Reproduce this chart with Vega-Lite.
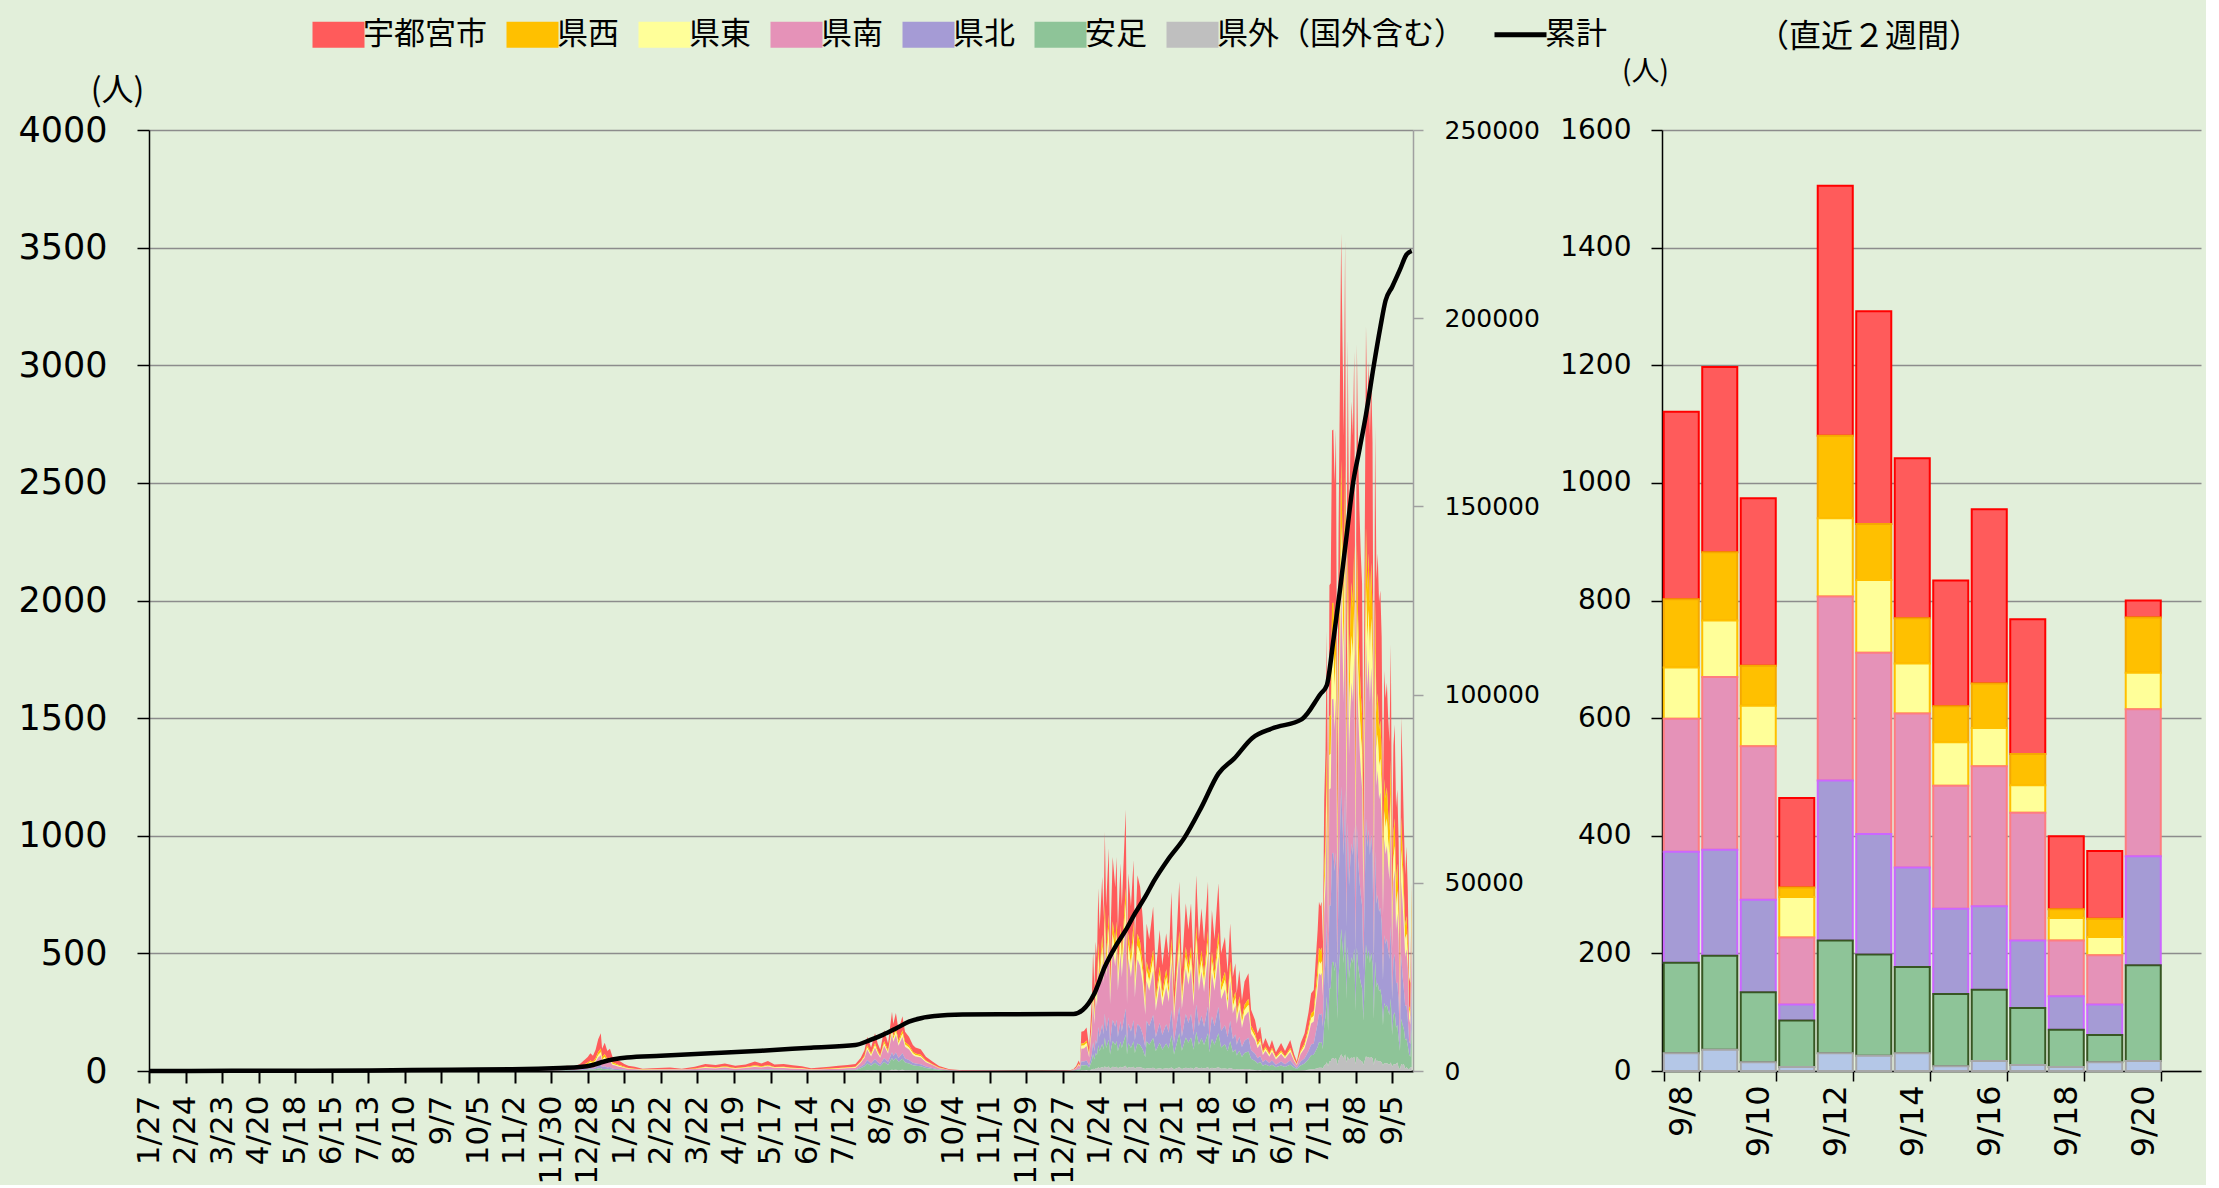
{
"$schema": "https://vega.github.io/schema/vega-lite/v6.json",
"background": "#e2efda",
"padding": {"left": 17, "top": 19, "right": 5, "bottom": 0},
"config": {
  "view": {"stroke": null},
  "font": "DejaVu Sans",
  "axis": {"labelFont": "DejaVu Sans", "labelColor": "#000000", "titleFont": "Noto Sans CJK JP", "titleColor": "#000000", "titleFontWeight": "normal"}
},
"datasets": {
  "cats": [
    {"k": "u", "name": "宇都宮市", "ord": 7},
    {"k": "w", "name": "県西", "ord": 6},
    {"k": "e", "name": "県東", "ord": 5},
    {"k": "s", "name": "県南", "ord": 4},
    {"k": "n", "name": "県北", "ord": 3},
    {"k": "a", "name": "安足", "ord": 2},
    {"k": "o", "name": "県外（国外含む）", "ord": 1}
  ],
  "recent": [
    {"day": "9/8", "u": 319, "w": 116, "e": 87, "s": 226, "n": 189, "a": 154, "o": 30},
    {"day": "9/9", "u": 315, "w": 116, "e": 96, "s": 294, "n": 180, "a": 160, "o": 36},
    {"day": "9/10", "u": 285, "w": 68, "e": 69, "s": 261, "n": 157, "a": 119, "o": 15},
    {"day": "9/11", "u": 152, "w": 16, "e": 69, "s": 114, "n": 27, "a": 79, "o": 7},
    {"day": "9/12", "u": 425, "w": 140, "e": 133, "s": 313, "n": 272, "a": 192, "o": 30},
    {"day": "9/13", "u": 362, "w": 95, "e": 124, "s": 308, "n": 205, "a": 172, "o": 26},
    {"day": "9/14", "u": 272, "w": 77, "e": 85, "s": 262, "n": 169, "a": 147, "o": 30},
    {"day": "9/15", "u": 214, "w": 61, "e": 74, "s": 209, "n": 145, "a": 123, "o": 8},
    {"day": "9/16", "u": 296, "w": 76, "e": 65, "s": 238, "n": 142, "a": 121, "o": 17},
    {"day": "9/17", "u": 229, "w": 53, "e": 47, "s": 217, "n": 115, "a": 97, "o": 10},
    {"day": "9/18", "u": 124, "w": 15, "e": 38, "s": 95, "n": 57, "a": 63, "o": 7},
    {"day": "9/19", "u": 115, "w": 31, "e": 31, "s": 84, "n": 52, "a": 46, "o": 15},
    {"day": "9/20", "u": 29, "w": 94, "e": 62, "s": 250, "n": 185, "a": 163, "o": 17}
  ],
  "cum": [
    {"d": "2020-01-27", "c": 0}, {"d": "2020-03-31", "c": 40}, {"d": "2020-05-31", "c": 70},
    {"d": "2020-07-15", "c": 110}, {"d": "2020-08-15", "c": 250}, {"d": "2020-09-15", "c": 350},
    {"d": "2020-10-31", "c": 450}, {"d": "2020-11-20", "c": 600}, {"d": "2020-12-07", "c": 800},
    {"d": "2020-12-22", "c": 1050}, {"d": "2021-01-01", "c": 1600}, {"d": "2021-01-09", "c": 2450},
    {"d": "2021-01-17", "c": 3100}, {"d": "2021-01-27", "c": 3600}, {"d": "2021-02-22", "c": 4050},
    {"d": "2021-04-01", "c": 4700}, {"d": "2021-05-10", "c": 5400}, {"d": "2021-06-17", "c": 6200},
    {"d": "2021-07-21", "c": 6900}, {"d": "2021-08-01", "c": 8200}, {"d": "2021-08-11", "c": 9600},
    {"d": "2021-08-21", "c": 11300}, {"d": "2021-08-31", "c": 13100}, {"d": "2021-09-10", "c": 14100},
    {"d": "2021-09-20", "c": 14600}, {"d": "2021-10-11", "c": 15000}, {"d": "2021-11-11", "c": 15100},
    {"d": "2022-01-04", "c": 15150}, {"d": "2022-01-11", "c": 16200}, {"d": "2022-01-20", "c": 20600},
    {"d": "2022-01-28", "c": 27700}, {"d": "2022-02-05", "c": 33000}, {"d": "2022-02-13", "c": 37400},
    {"d": "2022-02-20", "c": 41800}, {"d": "2022-02-28", "c": 46300}, {"d": "2022-03-07", "c": 50700},
    {"d": "2022-03-17", "c": 56000}, {"d": "2022-03-30", "c": 62000}, {"d": "2022-04-12", "c": 70100},
    {"d": "2022-04-25", "c": 79000}, {"d": "2022-05-07", "c": 83000}, {"d": "2022-05-21", "c": 88500},
    {"d": "2022-06-05", "c": 91000}, {"d": "2022-06-28", "c": 93500}, {"d": "2022-07-12", "c": 100100},
    {"d": "2022-07-17", "c": 102500}, {"d": "2022-07-22", "c": 114400}, {"d": "2022-07-27", "c": 127600},
    {"d": "2022-08-01", "c": 141800}, {"d": "2022-08-06", "c": 156000}, {"d": "2022-08-11", "c": 165100},
    {"d": "2022-08-16", "c": 174400}, {"d": "2022-08-22", "c": 187500}, {"d": "2022-08-27", "c": 197600},
    {"d": "2022-08-31", "c": 204700}, {"d": "2022-09-05", "c": 208300}, {"d": "2022-09-11", "c": 212900},
    {"d": "2022-09-16", "c": 216900}, {"d": "2022-09-20", "c": 217900}
  ],
  "daily": [
    {"d":"2020-01-27","u":0,"w":0,"e":0,"s":0,"n":0,"a":0,"o":0},
    {"d":"2020-03-25","u":1,"w":0,"e":0,"s":1,"n":0,"a":0,"o":0},
    {"d":"2020-04-15","u":1,"w":0,"e":0,"s":1,"n":0,"a":1,"o":0},
    {"d":"2020-05-10","u":0,"w":0,"e":0,"s":0,"n":0,"a":0,"o":0},
    {"d":"2020-07-01","u":1,"w":0,"e":0,"s":0,"n":0,"a":0,"o":0},
    {"d":"2020-07-20","u":4,"w":0,"e":0,"s":2,"n":1,"a":1,"o":0},
    {"d":"2020-08-05","u":4,"w":0,"e":1,"s":3,"n":1,"a":1,"o":0},
    {"d":"2020-08-20","u":2,"w":0,"e":0,"s":2,"n":0,"a":1,"o":0},
    {"d":"2020-09-20","u":2,"w":0,"e":0,"s":1,"n":0,"a":0,"o":0},
    {"d":"2020-10-20","u":2,"w":0,"e":0,"s":1,"n":1,"a":0,"o":0},
    {"d":"2020-11-10","u":4,"w":0,"e":0,"s":2,"n":1,"a":1,"o":0},
    {"d":"2020-11-25","u":7,"w":1,"e":1,"s":4,"n":1,"a":1,"o":0},
    {"d":"2020-12-05","u":5,"w":0,"e":1,"s":4,"n":1,"a":1,"o":0},
    {"d":"2020-12-12","u":10,"w":1,"e":1,"s":6,"n":2,"a":2,"o":0},
    {"d":"2020-12-18","u":9,"w":1,"e":1,"s":6,"n":2,"a":1,"o":0},
    {"d":"2020-12-22","u":13,"w":1,"e":2,"s":8,"n":3,"a":2,"o":1},
    {"d":"2020-12-25","u":18,"w":4,"e":4,"s":11,"n":4,"a":3,"o":1},
    {"d":"2020-12-28","u":24,"w":6,"e":5,"s":15,"n":5,"a":4,"o":1},
    {"d":"2020-12-30","u":30,"w":7,"e":6,"s":19,"n":7,"a":4,"o":2},
    {"d":"2021-01-01","u":26,"w":7,"e":5,"s":16,"n":6,"a":4,"o":1},
    {"d":"2021-01-03","u":36,"w":9,"e":7,"s":23,"n":8,"a":5,"o":2},
    {"d":"2021-01-05","u":54,"w":13,"e":11,"s":34,"n":12,"a":8,"o":3},
    {"d":"2021-01-07","u":65,"w":16,"e":13,"s":40,"n":14,"a":10,"o":3},
    {"d":"2021-01-08","u":37,"w":9,"e":8,"s":24,"n":9,"a":6,"o":2},
    {"d":"2021-01-10","u":48,"w":12,"e":10,"s":30,"n":11,"a":7,"o":2},
    {"d":"2021-01-12","u":34,"w":8,"e":7,"s":21,"n":8,"a":5,"o":2},
    {"d":"2021-01-14","u":37,"w":9,"e":8,"s":24,"n":9,"a":6,"o":2},
    {"d":"2021-01-16","u":24,"w":6,"e":5,"s":15,"n":5,"a":4,"o":1},
    {"d":"2021-01-18","u":22,"w":6,"e":4,"s":14,"n":5,"a":3,"o":1},
    {"d":"2021-01-20","u":18,"w":4,"e":4,"s":11,"n":4,"a":3,"o":1},
    {"d":"2021-01-22","u":16,"w":4,"e":3,"s":10,"n":4,"a":2,"o":1},
    {"d":"2021-01-25","u":12,"w":3,"e":2,"s":7,"n":3,"a":2,"o":1},
    {"d":"2021-01-28","u":9,"w":2,"e":2,"s":6,"n":2,"a":1,"o":0},
    {"d":"2021-02-02","u":8,"w":2,"e":1,"s":4,"n":2,"a":1,"o":0},
    {"d":"2021-02-08","u":4,"w":1,"e":1,"s":2,"n":1,"a":1,"o":0},
    {"d":"2021-02-15","u":5,"w":1,"e":1,"s":3,"n":1,"a":1,"o":0},
    {"d":"2021-03-01","u":6,"w":2,"e":1,"s":4,"n":1,"a":1,"o":0},
    {"d":"2021-03-10","u":4,"w":0,"e":1,"s":3,"n":1,"a":1,"o":0},
    {"d":"2021-03-20","u":7,"w":2,"e":1,"s":5,"n":2,"a":1,"o":0},
    {"d":"2021-03-28","u":12,"w":2,"e":3,"s":8,"n":2,"a":2,"o":1},
    {"d":"2021-04-05","u":10,"w":2,"e":2,"s":7,"n":2,"a":1,"o":1},
    {"d":"2021-04-12","u":12,"w":3,"e":2,"s":9,"n":3,"a":2,"o":1},
    {"d":"2021-04-20","u":9,"w":2,"e":2,"s":6,"n":2,"a":1,"o":0},
    {"d":"2021-04-28","u":11,"w":2,"e":2,"s":8,"n":2,"a":2,"o":1},
    {"d":"2021-05-05","u":16,"w":4,"e":3,"s":11,"n":3,"a":2,"o":1},
    {"d":"2021-05-10","u":12,"w":3,"e":2,"s":9,"n":3,"a":2,"o":1},
    {"d":"2021-05-15","u":16,"w":4,"e":3,"s":12,"n":3,"a":3,"o":1},
    {"d":"2021-05-20","u":11,"w":2,"e":2,"s":8,"n":2,"a":2,"o":1},
    {"d":"2021-05-27","u":12,"w":2,"e":3,"s":8,"n":2,"a":2,"o":1},
    {"d":"2021-06-03","u":10,"w":2,"e":2,"s":7,"n":2,"a":1,"o":0},
    {"d":"2021-06-10","u":8,"w":1,"e":2,"s":6,"n":2,"a":1,"o":0},
    {"d":"2021-06-17","u":5,"w":1,"e":1,"s":3,"n":1,"a":1,"o":0},
    {"d":"2021-06-24","u":6,"w":2,"e":1,"s":4,"n":1,"a":1,"o":0},
    {"d":"2021-07-01","u":7,"w":2,"e":1,"s":5,"n":2,"a":1,"o":0},
    {"d":"2021-07-08","u":9,"w":2,"e":2,"s":6,"n":2,"a":1,"o":0},
    {"d":"2021-07-15","u":9,"w":2,"e":2,"s":7,"n":2,"a":2,"o":1},
    {"d":"2021-07-21","u":12,"w":2,"e":3,"s":8,"n":2,"a":2,"o":1},
    {"d":"2021-07-25","u":15,"w":3,"e":3,"s":16,"n":6,"a":11,"o":1},
    {"d":"2021-07-28","u":23,"w":5,"e":5,"s":27,"n":9,"a":18,"o":2},
    {"d":"2021-07-30","u":37,"w":9,"e":9,"s":44,"n":15,"a":29,"o":3},
    {"d":"2021-08-02","u":26,"w":6,"e":6,"s":30,"n":10,"a":20,"o":2},
    {"d":"2021-08-05","u":42,"w":10,"e":10,"s":48,"n":16,"a":32,"o":3},
    {"d":"2021-08-07","u":31,"w":7,"e":7,"s":35,"n":12,"a":24,"o":2},
    {"d":"2021-08-09","u":24,"w":5,"e":5,"s":27,"n":9,"a":18,"o":2},
    {"d":"2021-08-12","u":47,"w":10,"e":10,"s":52,"n":17,"a":35,"o":3},
    {"d":"2021-08-15","u":31,"w":7,"e":7,"s":35,"n":12,"a":24,"o":2},
    {"d":"2021-08-18","u":66,"w":15,"e":15,"s":76,"n":25,"a":50,"o":5},
    {"d":"2021-08-19","u":52,"w":12,"e":12,"s":60,"n":20,"a":40,"o":4},
    {"d":"2021-08-21","u":64,"w":15,"e":15,"s":74,"n":25,"a":49,"o":5},
    {"d":"2021-08-23","u":47,"w":10,"e":10,"s":52,"n":17,"a":35,"o":3},
    {"d":"2021-08-26","u":60,"w":14,"e":14,"s":70,"n":23,"a":47,"o":5},
    {"d":"2021-08-28","u":44,"w":10,"e":10,"s":50,"n":17,"a":33,"o":3},
    {"d":"2021-08-31","u":37,"w":9,"e":9,"s":44,"n":15,"a":29,"o":3},
    {"d":"2021-09-03","u":28,"w":7,"e":7,"s":33,"n":11,"a":22,"o":2},
    {"d":"2021-09-05","u":26,"w":6,"e":6,"s":30,"n":10,"a":20,"o":2},
    {"d":"2021-09-09","u":23,"w":6,"e":6,"s":28,"n":9,"a":18,"o":2},
    {"d":"2021-09-13","u":16,"w":4,"e":4,"s":18,"n":6,"a":12,"o":1},
    {"d":"2021-09-18","u":11,"w":2,"e":2,"s":12,"n":4,"a":8,"o":1},
    {"d":"2021-09-23","u":6,"w":2,"e":1,"s":6,"n":2,"a":4,"o":0},
    {"d":"2021-10-01","u":3,"w":0,"e":0,"s":2,"n":1,"a":1,"o":0},
    {"d":"2021-10-11","u":2,"w":0,"e":0,"s":1,"n":0,"a":0,"o":0},
    {"d":"2021-11-01","u":1,"w":0,"e":0,"s":1,"n":0,"a":0,"o":0},
    {"d":"2021-11-20","u":1,"w":0,"e":0,"s":0,"n":0,"a":0,"o":0},
    {"d":"2021-12-10","u":1,"w":0,"e":0,"s":0,"n":0,"a":0,"o":0},
    {"d":"2021-12-28","u":1,"w":0,"e":0,"s":1,"n":0,"a":0,"o":0},
    {"d":"2022-01-02","u":2,"w":0,"e":0,"s":1,"n":0,"a":1,"o":0},
    {"d":"2022-01-04","u":2,"w":0,"e":1,"s":3,"n":1,"a":1,"o":0},
    {"d":"2022-01-06","u":7,"w":1,"e":1,"s":7,"n":2,"a":2,"o":0},
    {"d":"2022-01-08","u":13,"w":3,"e":3,"s":15,"n":5,"a":5,"o":1},
    {"d":"2022-01-09","u":8,"w":2,"e":2,"s":10,"n":3,"a":4,"o":1},
    {"d":"2022-01-10","u":50,"w":10,"e":12,"s":55,"n":17,"a":20,"o":3},
    {"d":"2022-01-12","u":52,"w":10,"e":12,"s":56,"n":17,"a":20,"o":3},
    {"d":"2022-01-14","u":55,"w":11,"e":13,"s":61,"n":19,"a":22,"o":4},
    {"d":"2022-01-16","u":30,"w":6,"e":7,"s":33,"n":10,"a":12,"o":2},
    {"d":"2022-01-18","u":90,"w":18,"e":21,"s":99,"n":30,"a":36,"o":6},
    {"d":"2022-01-19","u":153,"w":30,"e":35,"s":167,"n":51,"a":61,"o":10},
    {"d":"2022-01-20","u":104,"w":21,"e":25,"s":116,"n":35,"a":42,"o":7},
    {"d":"2022-01-21","u":165,"w":33,"e":38,"s":181,"n":55,"a":66,"o":11},
    {"d":"2022-01-22","u":143,"w":29,"e":34,"s":158,"n":48,"a":58,"o":10},
    {"d":"2022-01-23","u":233,"w":47,"e":54,"s":256,"n":78,"a":93,"o":16},
    {"d":"2022-01-24","u":180,"w":36,"e":42,"s":198,"n":60,"a":72,"o":12},
    {"d":"2022-01-26","u":246,"w":50,"e":58,"s":272,"n":83,"a":99,"o":17},
    {"d":"2022-01-27","u":194,"w":39,"e":46,"s":215,"n":65,"a":78,"o":13},
    {"d":"2022-01-28","u":305,"w":61,"e":71,"s":335,"n":102,"a":122,"o":20},
    {"d":"2022-01-29","u":210,"w":42,"e":49,"s":231,"n":70,"a":84,"o":14},
    {"d":"2022-01-31","u":283,"w":57,"e":66,"s":313,"n":95,"a":114,"o":19},
    {"d":"2022-02-01","u":150,"w":30,"e":35,"s":165,"n":50,"a":60,"o":10},
    {"d":"2022-02-03","u":273,"w":55,"e":64,"s":300,"n":91,"a":109,"o":18},
    {"d":"2022-02-05","u":233,"w":47,"e":55,"s":257,"n":78,"a":94,"o":16},
    {"d":"2022-02-06","u":273,"w":55,"e":64,"s":300,"n":91,"a":109,"o":18},
    {"d":"2022-02-07","u":180,"w":36,"e":42,"s":198,"n":60,"a":72,"o":12},
    {"d":"2022-02-09","u":265,"w":53,"e":62,"s":291,"n":88,"a":106,"o":18},
    {"d":"2022-02-10","u":210,"w":42,"e":49,"s":231,"n":70,"a":84,"o":14},
    {"d":"2022-02-13","u":333,"w":67,"e":78,"s":367,"n":111,"a":133,"o":22},
    {"d":"2022-02-14","u":150,"w":30,"e":35,"s":165,"n":50,"a":60,"o":10},
    {"d":"2022-02-15","u":252,"w":50,"e":59,"s":277,"n":84,"a":101,"o":17},
    {"d":"2022-02-17","u":210,"w":42,"e":49,"s":231,"n":70,"a":84,"o":14},
    {"d":"2022-02-19","u":267,"w":54,"e":63,"s":296,"n":90,"a":108,"o":18},
    {"d":"2022-02-20","u":164,"w":33,"e":39,"s":182,"n":55,"a":66,"o":11},
    {"d":"2022-02-22","u":249,"w":50,"e":58,"s":275,"n":83,"a":100,"o":17},
    {"d":"2022-02-24","u":235,"w":47,"e":55,"s":258,"n":78,"a":94,"o":16},
    {"d":"2022-02-26","u":194,"w":39,"e":46,"s":215,"n":65,"a":78,"o":13},
    {"d":"2022-02-28","u":127,"w":25,"e":29,"s":139,"n":42,"a":50,"o":8},
    {"d":"2022-03-01","u":162,"w":38,"e":44,"s":169,"n":88,"a":113,"o":13},
    {"d":"2022-03-03","u":146,"w":34,"e":39,"s":151,"n":78,"a":101,"o":11},
    {"d":"2022-03-06","u":181,"w":42,"e":49,"s":188,"n":98,"a":126,"o":14},
    {"d":"2022-03-08","u":110,"w":25,"e":29,"s":113,"n":59,"a":76,"o":8},
    {"d":"2022-03-11","u":155,"w":36,"e":42,"s":162,"n":84,"a":108,"o":12},
    {"d":"2022-03-13","u":116,"w":27,"e":32,"s":122,"n":63,"a":81,"o":9},
    {"d":"2022-03-16","u":153,"w":35,"e":41,"s":158,"n":82,"a":105,"o":12},
    {"d":"2022-03-18","u":124,"w":29,"e":34,"s":130,"n":67,"a":86,"o":10},
    {"d":"2022-03-20","u":198,"w":46,"e":53,"s":205,"n":107,"a":137,"o":15},
    {"d":"2022-03-22","u":90,"w":21,"e":25,"s":95,"n":49,"a":63,"o":7},
    {"d":"2022-03-26","u":209,"w":48,"e":56,"s":217,"n":113,"a":145,"o":16},
    {"d":"2022-03-28","u":112,"w":26,"e":30,"s":116,"n":60,"a":77,"o":9},
    {"d":"2022-03-31","u":185,"w":43,"e":50,"s":193,"n":100,"a":128,"o":14},
    {"d":"2022-04-02","u":156,"w":36,"e":42,"s":162,"n":84,"a":108,"o":12},
    {"d":"2022-04-04","u":185,"w":43,"e":50,"s":193,"n":100,"a":128,"o":14},
    {"d":"2022-04-06","u":116,"w":27,"e":32,"s":122,"n":63,"a":81,"o":9},
    {"d":"2022-04-08","u":216,"w":50,"e":58,"s":225,"n":116,"a":150,"o":17},
    {"d":"2022-04-10","u":146,"w":34,"e":39,"s":151,"n":78,"a":101,"o":11},
    {"d":"2022-04-12","u":179,"w":42,"e":48,"s":187,"n":97,"a":125,"o":14},
    {"d":"2022-04-14","u":142,"w":33,"e":39,"s":149,"n":77,"a":99,"o":11},
    {"d":"2022-04-17","u":209,"w":48,"e":56,"s":217,"n":113,"a":145,"o":16},
    {"d":"2022-04-18","u":104,"w":24,"e":28,"s":108,"n":56,"a":72,"o":8},
    {"d":"2022-04-20","u":177,"w":41,"e":48,"s":185,"n":96,"a":123,"o":14},
    {"d":"2022-04-22","u":146,"w":34,"e":39,"s":151,"n":78,"a":101,"o":11},
    {"d":"2022-04-25","u":207,"w":48,"e":56,"s":215,"n":112,"a":144,"o":16},
    {"d":"2022-04-27","u":130,"w":30,"e":35,"s":135,"n":70,"a":90,"o":10},
    {"d":"2022-04-30","u":148,"w":34,"e":40,"s":154,"n":80,"a":103,"o":11},
    {"d":"2022-05-02","u":110,"w":25,"e":29,"s":113,"n":59,"a":76,"o":8},
    {"d":"2022-05-04","u":162,"w":38,"e":44,"s":169,"n":88,"a":113,"o":13},
    {"d":"2022-05-06","u":104,"w":24,"e":28,"s":108,"n":56,"a":72,"o":8},
    {"d":"2022-05-08","u":120,"w":27,"e":32,"s":124,"n":64,"a":82,"o":9},
    {"d":"2022-05-09","u":86,"w":20,"e":23,"s":89,"n":46,"a":59,"o":7},
    {"d":"2022-05-11","u":111,"w":26,"e":30,"s":116,"n":60,"a":77,"o":9},
    {"d":"2022-05-13","u":78,"w":18,"e":21,"s":81,"n":42,"a":54,"o":6},
    {"d":"2022-05-15","u":98,"w":23,"e":27,"s":103,"n":53,"a":68,"o":8},
    {"d":"2022-05-18","u":109,"w":25,"e":29,"s":112,"n":58,"a":75,"o":8},
    {"d":"2022-05-20","u":68,"w":16,"e":18,"s":70,"n":36,"a":47,"o":5},
    {"d":"2022-05-23","u":57,"w":13,"e":15,"s":59,"n":30,"a":39,"o":4},
    {"d":"2022-05-25","u":42,"w":10,"e":11,"s":43,"n":22,"a":29,"o":3},
    {"d":"2022-05-27","u":49,"w":11,"e":13,"s":51,"n":26,"a":34,"o":4},
    {"d":"2022-05-29","u":28,"w":7,"e":8,"s":30,"n":15,"a":20,"o":2},
    {"d":"2022-05-31","u":36,"w":8,"e":10,"s":38,"n":20,"a":25,"o":3},
    {"d":"2022-06-03","u":26,"w":6,"e":7,"s":27,"n":14,"a":18,"o":2},
    {"d":"2022-06-05","u":34,"w":8,"e":9,"s":36,"n":18,"a":24,"o":3},
    {"d":"2022-06-08","u":20,"w":5,"e":6,"s":22,"n":11,"a":14,"o":2},
    {"d":"2022-06-12","u":32,"w":7,"e":8,"s":32,"n":17,"a":21,"o":2},
    {"d":"2022-06-15","u":22,"w":5,"e":6,"s":23,"n":12,"a":15,"o":2},
    {"d":"2022-06-19","u":34,"w":8,"e":9,"s":36,"n":18,"a":24,"o":3},
    {"d":"2022-06-22","u":18,"w":4,"e":5,"s":19,"n":10,"a":13,"o":1},
    {"d":"2022-06-24","u":10,"w":2,"e":3,"s":11,"n":6,"a":7,"o":1},
    {"d":"2022-06-27","u":32,"w":7,"e":8,"s":32,"n":17,"a":21,"o":2},
    {"d":"2022-06-30","u":42,"w":10,"e":11,"s":43,"n":22,"a":29,"o":3},
    {"d":"2022-07-03","u":64,"w":15,"e":18,"s":68,"n":35,"a":45,"o":5},
    {"d":"2022-07-05","u":86,"w":20,"e":23,"s":89,"n":46,"a":60,"o":7},
    {"d":"2022-07-07","u":89,"w":21,"e":24,"s":93,"n":48,"a":62,"o":7},
    {"d":"2022-07-10","u":162,"w":48,"e":42,"s":144,"n":102,"a":90,"o":12},
    {"d":"2022-07-11","u":194,"w":58,"e":50,"s":173,"n":122,"a":108,"o":14},
    {"d":"2022-07-12","u":189,"w":56,"e":49,"s":168,"n":119,"a":105,"o":14},
    {"d":"2022-07-13","u":194,"w":58,"e":50,"s":173,"n":122,"a":108,"o":14},
    {"d":"2022-07-14","u":147,"w":44,"e":39,"s":132,"n":94,"a":83,"o":11},
    {"d":"2022-07-15","u":310,"w":92,"e":81,"s":276,"n":196,"a":173,"o":23},
    {"d":"2022-07-16","u":366,"w":109,"e":95,"s":326,"n":231,"a":204,"o":27},
    {"d":"2022-07-17","u":504,"w":150,"e":131,"s":449,"n":318,"a":281,"o":37},
    {"d":"2022-07-18","u":270,"w":80,"e":70,"s":240,"n":170,"a":150,"o":20},
    {"d":"2022-07-19","u":557,"w":165,"e":145,"s":496,"n":351,"a":310,"o":41},
    {"d":"2022-07-20","u":560,"w":166,"e":145,"s":498,"n":352,"a":311,"o":41},
    {"d":"2022-07-21","u":735,"w":218,"e":191,"s":654,"n":463,"a":408,"o":54},
    {"d":"2022-07-22","u":736,"w":218,"e":191,"s":654,"n":464,"a":409,"o":55},
    {"d":"2022-07-23","u":675,"w":200,"e":175,"s":600,"n":425,"a":375,"o":50},
    {"d":"2022-07-24","u":736,"w":218,"e":191,"s":654,"n":464,"a":409,"o":55},
    {"d":"2022-07-25","u":351,"w":104,"e":91,"s":312,"n":221,"a":195,"o":26},
    {"d":"2022-07-26","u":623,"w":185,"e":162,"s":554,"n":393,"a":347,"o":46},
    {"d":"2022-07-27","u":783,"w":232,"e":203,"s":696,"n":493,"a":435,"o":58},
    {"d":"2022-07-28","u":962,"w":285,"e":249,"s":854,"n":605,"a":534,"o":71},
    {"d":"2022-07-29","u":837,"w":248,"e":217,"s":744,"n":527,"a":465,"o":62},
    {"d":"2022-07-30","u":729,"w":216,"e":189,"s":648,"n":459,"a":405,"o":54},
    {"d":"2022-07-31","u":952,"w":282,"e":247,"s":847,"n":600,"a":529,"o":71},
    {"d":"2022-08-01","u":486,"w":144,"e":126,"s":432,"n":306,"a":270,"o":36},
    {"d":"2022-08-02","u":839,"w":249,"e":218,"s":746,"n":529,"a":467,"o":62},
    {"d":"2022-08-03","u":623,"w":185,"e":162,"s":554,"n":393,"a":347,"o":46},
    {"d":"2022-08-04","u":708,"w":210,"e":184,"s":630,"n":446,"a":394,"o":52},
    {"d":"2022-08-05","u":767,"w":228,"e":199,"s":683,"n":484,"a":427,"o":57},
    {"d":"2022-08-06","u":729,"w":216,"e":189,"s":648,"n":459,"a":405,"o":54},
    {"d":"2022-08-07","u":824,"w":245,"e":214,"s":734,"n":520,"a":459,"o":61},
    {"d":"2022-08-08","u":405,"w":120,"e":105,"s":360,"n":255,"a":225,"o":30},
    {"d":"2022-08-09","u":835,"w":247,"e":216,"s":741,"n":525,"a":463,"o":62},
    {"d":"2022-08-10","u":709,"w":210,"e":184,"s":630,"n":446,"a":394,"o":53},
    {"d":"2022-08-11","u":642,"w":191,"e":167,"s":572,"n":405,"a":357,"o":48},
    {"d":"2022-08-12","u":594,"w":176,"e":154,"s":528,"n":374,"a":330,"o":44},
    {"d":"2022-08-13","u":560,"w":166,"e":145,"s":498,"n":352,"a":311,"o":41},
    {"d":"2022-08-14","u":341,"w":101,"e":88,"s":303,"n":214,"a":189,"o":25},
    {"d":"2022-08-15","u":600,"w":178,"e":155,"s":533,"n":377,"a":333,"o":44},
    {"d":"2022-08-16","u":854,"w":253,"e":222,"s":760,"n":538,"a":475,"o":63},
    {"d":"2022-08-17","u":756,"w":224,"e":196,"s":672,"n":476,"a":420,"o":56},
    {"d":"2022-08-18","u":815,"w":241,"e":211,"s":724,"n":513,"a":452,"o":60},
    {"d":"2022-08-19","u":729,"w":216,"e":189,"s":648,"n":459,"a":405,"o":54},
    {"d":"2022-08-20","u":800,"w":237,"e":207,"s":710,"n":503,"a":444,"o":59},
    {"d":"2022-08-21","u":722,"w":214,"e":187,"s":642,"n":455,"a":401,"o":54},
    {"d":"2022-08-22","u":351,"w":104,"e":91,"s":312,"n":221,"a":195,"o":26},
    {"d":"2022-08-23","u":739,"w":219,"e":192,"s":658,"n":466,"a":411,"o":55},
    {"d":"2022-08-24","u":564,"w":167,"e":146,"s":502,"n":355,"a":314,"o":42},
    {"d":"2022-08-25","u":594,"w":176,"e":154,"s":528,"n":374,"a":330,"o":44},
    {"d":"2022-08-26","u":537,"w":159,"e":139,"s":478,"n":338,"a":299,"o":40},
    {"d":"2022-08-27","u":552,"w":163,"e":143,"s":490,"n":347,"a":306,"o":41},
    {"d":"2022-08-28","u":499,"w":148,"e":129,"s":443,"n":314,"a":277,"o":37},
    {"d":"2022-08-29","u":307,"w":91,"e":80,"s":273,"n":194,"a":171,"o":23},
    {"d":"2022-08-30","u":459,"w":136,"e":119,"s":408,"n":289,"a":255,"o":34},
    {"d":"2022-08-31","u":427,"w":127,"e":111,"s":381,"n":270,"a":238,"o":32},
    {"d":"2022-09-01","u":444,"w":132,"e":116,"s":396,"n":281,"a":248,"o":33},
    {"d":"2022-09-02","u":405,"w":120,"e":105,"s":360,"n":255,"a":225,"o":30},
    {"d":"2022-09-03","u":378,"w":112,"e":98,"s":336,"n":238,"a":210,"o":28},
    {"d":"2022-09-04","u":490,"w":145,"e":127,"s":435,"n":308,"a":272,"o":36},
    {"d":"2022-09-05","u":243,"w":72,"e":63,"s":216,"n":153,"a":135,"o":18},
    {"d":"2022-09-06","u":373,"w":111,"e":97,"s":332,"n":235,"a":208,"o":28},
    {"d":"2022-09-07","u":398,"w":118,"e":103,"s":353,"n":250,"a":221,"o":29},
    {"d":"2022-09-08","u":319,"w":116,"e":87,"s":226,"n":189,"a":154,"o":30},
    {"d":"2022-09-09","u":315,"w":116,"e":96,"s":294,"n":180,"a":160,"o":36},
    {"d":"2022-09-10","u":285,"w":68,"e":69,"s":261,"n":157,"a":119,"o":15},
    {"d":"2022-09-11","u":152,"w":16,"e":69,"s":114,"n":27,"a":79,"o":7},
    {"d":"2022-09-12","u":425,"w":140,"e":133,"s":313,"n":272,"a":192,"o":30},
    {"d":"2022-09-13","u":362,"w":95,"e":124,"s":308,"n":205,"a":172,"o":26},
    {"d":"2022-09-14","u":272,"w":77,"e":85,"s":262,"n":169,"a":147,"o":30},
    {"d":"2022-09-15","u":214,"w":61,"e":74,"s":209,"n":145,"a":123,"o":8},
    {"d":"2022-09-16","u":296,"w":76,"e":65,"s":238,"n":142,"a":121,"o":17},
    {"d":"2022-09-17","u":229,"w":53,"e":47,"s":217,"n":115,"a":97,"o":10},
    {"d":"2022-09-18","u":124,"w":15,"e":38,"s":95,"n":57,"a":63,"o":7},
    {"d":"2022-09-19","u":115,"w":31,"e":31,"s":84,"n":52,"a":46,"o":15},
    {"d":"2022-09-20","u":29,"w":94,"e":62,"s":250,"n":185,"a":163,"o":17}
  ]
},
"spacing": 19,
"hconcat": [
  {
    "width": 1264,
    "height": 941,
    "resolve": {"scale": {"y": "independent"}},
    "layer": [
      {
        "data": {"name": "daily"},
        "transform": [
          {"fold": ["u", "w", "e", "s", "n", "a", "o"], "as": ["k", "v"]},
          {"lookup": "k", "from": {"data": {"name": "cats"}, "key": "k", "fields": ["name", "ord"]}}
        ],
        "mark": {"type": "area", "interpolate": "linear"},
        "encoding": {
          "x": {
            "field": "d", "type": "temporal",
            "scale": {"type": "utc", "domain": [{"year": 2020, "month": 1, "date": 27, "utc": true}, {"year": 2022, "month": 9, "date": 21, "utc": true}]},
            "axis": {
              "title": null, "format": "%-m/%-d", "labelAngle": 270, "labelFontSize": 31, "labelOverlap": false, "labelFlush": false,
              "tickCount": 60,
              "tickSize": 12, "tickWidth": 2, "tickColor": "#000000", "domainColor": "#000000", "domainWidth": 2, "labelPadding": 12, "grid": false,
              "values": [
                {"year": 2020, "month": 1, "date": 27, "utc": true}, {"year": 2020, "month": 2, "date": 24, "utc": true},
                {"year": 2020, "month": 3, "date": 23, "utc": true}, {"year": 2020, "month": 4, "date": 20, "utc": true},
                {"year": 2020, "month": 5, "date": 18, "utc": true}, {"year": 2020, "month": 6, "date": 15, "utc": true},
                {"year": 2020, "month": 7, "date": 13, "utc": true}, {"year": 2020, "month": 8, "date": 10, "utc": true},
                {"year": 2020, "month": 9, "date": 7, "utc": true}, {"year": 2020, "month": 10, "date": 5, "utc": true},
                {"year": 2020, "month": 11, "date": 2, "utc": true}, {"year": 2020, "month": 11, "date": 30, "utc": true},
                {"year": 2020, "month": 12, "date": 28, "utc": true}, {"year": 2021, "month": 1, "date": 25, "utc": true},
                {"year": 2021, "month": 2, "date": 22, "utc": true}, {"year": 2021, "month": 3, "date": 22, "utc": true},
                {"year": 2021, "month": 4, "date": 19, "utc": true}, {"year": 2021, "month": 5, "date": 17, "utc": true},
                {"year": 2021, "month": 6, "date": 14, "utc": true}, {"year": 2021, "month": 7, "date": 12, "utc": true},
                {"year": 2021, "month": 8, "date": 9, "utc": true}, {"year": 2021, "month": 9, "date": 6, "utc": true},
                {"year": 2021, "month": 10, "date": 4, "utc": true}, {"year": 2021, "month": 11, "date": 1, "utc": true},
                {"year": 2021, "month": 11, "date": 29, "utc": true}, {"year": 2021, "month": 12, "date": 27, "utc": true},
                {"year": 2022, "month": 1, "date": 24, "utc": true}, {"year": 2022, "month": 2, "date": 21, "utc": true},
                {"year": 2022, "month": 3, "date": 21, "utc": true}, {"year": 2022, "month": 4, "date": 18, "utc": true},
                {"year": 2022, "month": 5, "date": 16, "utc": true}, {"year": 2022, "month": 6, "date": 13, "utc": true},
                {"year": 2022, "month": 7, "date": 11, "utc": true}, {"year": 2022, "month": 8, "date": 8, "utc": true},
                {"year": 2022, "month": 9, "date": 5, "utc": true}
              ]
            }
          },
          "y": {
            "field": "v", "type": "quantitative", "stack": "zero",
            "scale": {"domain": [0, 4000], "nice": false},
            "axis": {
              "values": [0, 500, 1000, 1500, 2000, 2500, 3000, 3500, 4000], "format": "d",
              "labelFontSize": 35, "labelPadding": 30, "tickSize": 12, "tickColor": "#000000", "tickWidth": 1.5,
              "domainColor": "#000000", "domainWidth": 1.5, "grid": true, "gridColor": "#8c8c8c", "gridWidth": 1.5,
              "title": "(人)", "titleAngle": 0, "titleX": -32, "titleY": -40, "titleAlign": "center", "titleBaseline": "middle", "titleFontSize": 32
            }
          },
          "color": {
            "field": "name", "type": "nominal",
            "scale": {
              "domain": ["宇都宮市", "県西", "県東", "県南", "県北", "安足", "県外（国外含む）", "累計"],
              "range": ["#ff5b5b", "#ffc000", "#ffff99", "#e592b8", "#a59bd5", "#8ec498", "#bfbfbf", "#000000"]
            },
            "legend": {
              "orient": "none", "legendX": 174, "legendY": -111, "direction": "horizontal", "title": null,
              "labelFont": "Noto Sans CJK JP", "labelFontSize": 31, "labelColor": "#000000", "labelOffset": 9, "columnPadding": 19, "labelLimit": 400,
              "symbolType": "M-1,-0.5H1V0.5H-1Z", "symbolSize": 2704, "symbolStrokeWidth": 0, "symbolOpacity": 1,
              "encode": {"symbols": {"update": {
                "shape": {"signal": "datum.value === '累計' ? 'M-1,0H1' : 'M-1,-0.5H1V0.5H-1Z'"},
                "stroke": {"signal": "datum.value === '累計' ? '#000000' : 'transparent'"},
                "strokeWidth": {"signal": "datum.value === '累計' ? 5 : 0"}
              }}}
            }
          },
          "order": {"field": "ord", "type": "quantitative"}
        }
      },
      {
        "data": {"name": "cum"},
        "mark": {"type": "line", "color": "#000000", "strokeWidth": 4.5, "interpolate": "monotone"},
        "encoding": {
          "x": {"field": "d", "type": "temporal"},
          "y": {
            "field": "c", "type": "quantitative",
            "scale": {"domain": [0, 250000], "nice": false},
            "axis": {
              "orient": "right", "values": [0, 50000, 100000, 150000, 200000, 250000], "format": "d",
              "labelFontSize": 25, "labelPadding": 21, "tickSize": 10, "tickColor": "#a0a0a0", "tickWidth": 1.5,
              "domainColor": "#a0a0a0", "domainWidth": 1.5, "grid": false, "title": null
            }
          }
        }
      }
    ]
  },
  {
    "width": 539,
    "height": 941,
    "data": {"name": "recent"},
    "title": {"text": "（直近２週間）", "anchor": "start", "frame": "group", "dx": 95, "offset": -28, "baseline": "bottom", "fontSize": 32, "font": "Noto Sans CJK JP", "fontWeight": "normal", "color": "#000000"},
    "transform": [
      {"fold": ["u", "w", "e", "s", "n", "a", "o"], "as": ["k", "v"]},
      {"lookup": "k", "from": {"data": {"name": "cats"}, "key": "k", "fields": ["name", "ord"]}}
    ],
    "mark": {"type": "bar", "strokeWidth": 2},
    "encoding": {
      "x": {
        "field": "day", "type": "ordinal",
        "scale": {"domain": ["9/8", "9/9", "9/10", "9/11", "9/12", "9/13", "9/14", "9/15", "9/16", "9/17", "9/18", "9/19", "9/20", "9/21"], "paddingInner": 0.09, "paddingOuter": 0.045},
        "axis": {
          "title": null, "values": ["9/8", "9/10", "9/12", "9/14", "9/16", "9/18", "9/20"], "tickBand": "extent",
          "labelAngle": 270, "labelFontSize": 32, "labelPadding": 4, "tickSize": 10, "tickColor": "#000000", "tickWidth": 1.5,
          "domainColor": "#000000", "domainWidth": 1.5, "grid": false
        }
      },
      "y": {
        "field": "v", "type": "quantitative", "stack": "zero",
        "scale": {"domain": [0, 1600], "nice": false},
        "axis": {
          "values": [0, 200, 400, 600, 800, 1000, 1200, 1400, 1600], "format": "d",
          "labelFontSize": 28, "labelPadding": 20, "tickSize": 11, "tickColor": "#000000", "tickWidth": 1.5,
          "domainColor": "#000000", "domainWidth": 1.5, "grid": true, "gridColor": "#8c8c8c", "gridWidth": 1.5,
          "title": "(人)", "titleAngle": 0, "titleX": -17, "titleY": -58, "titleAlign": "center", "titleBaseline": "middle", "titleFontSize": 28
        }
      },
      "fill": {
        "field": "name", "type": "nominal",
        "scale": {
          "domain": ["宇都宮市", "県西", "県東", "県南", "県北", "安足", "県外（国外含む）"],
          "range": ["#ff5b5b", "#ffc000", "#ffff99", "#e592b8", "#a59bd5", "#8ec498", "#b4c7e7"]
        },
        "legend": null
      },
      "stroke": {
        "field": "name", "type": "nominal",
        "scale": {
          "domain": ["宇都宮市", "県西", "県東", "県南", "県北", "安足", "県外（国外含む）"],
          "range": ["#ff0000", "#f5a800", "#ffc000", "#ff7c80", "#cc66ff", "#375623", "#a6a6a6"]
        },
        "legend": null
      },
      "order": {"field": "ord", "type": "quantitative"}
    }
  }
]
}
